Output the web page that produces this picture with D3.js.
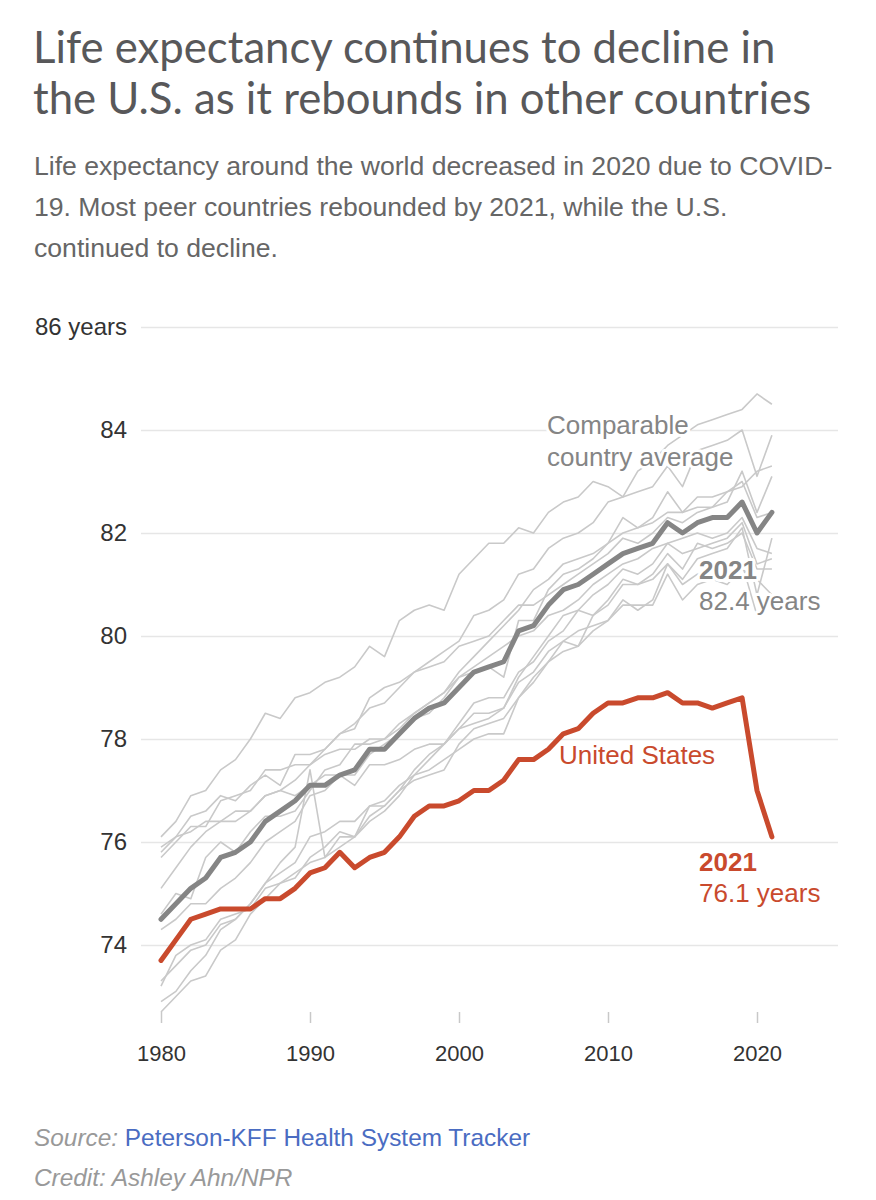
<!DOCTYPE html>
<html>
<head>
<meta charset="utf-8">
<script src="https://cdn.jsdelivr.net/npm/d3@7"></script>
<style>
  body { margin: 0; background: #fff; }
  svg { display: block; }
</style>
</head>
<body>
<svg id="chart" width="876" height="1200"></svg>
<script>
// years on the x axis
const years = [1980, 1981, 1982, 1983, 1984, 1985, 1986, 1987, 1988, 1989,
  1990, 1991, 1992, 1993, 1994, 1995, 1996, 1997, 1998, 1999,
  2000, 2001, 2002, 2003, 2004, 2005, 2006, 2007, 2008, 2009,
  2010, 2011, 2012, 2013, 2014, 2015, 2016, 2017, 2018, 2019,
  2020, 2021];

const unitedStates = [73.7, 74.1, 74.5, 74.6, 74.7, 74.7, 74.7, 74.9, 74.9, 75.1,
  75.4, 75.5, 75.8, 75.5, 75.7, 75.8, 76.1, 76.5, 76.7, 76.7,
  76.8, 77.0, 77.0, 77.2, 77.6, 77.6, 77.8, 78.1, 78.2, 78.5,
  78.7, 78.7, 78.8, 78.8, 78.9, 78.7, 78.7, 78.6, 78.7, 78.8,
  77.0, 76.1];

const peerAverage = [74.5, 74.8, 75.1, 75.3, 75.7, 75.8, 76.0, 76.4, 76.6, 76.8,
  77.1, 77.1, 77.3, 77.4, 77.8, 77.8, 78.1, 78.4, 78.6, 78.7,
  79.0, 79.3, 79.4, 79.5, 80.1, 80.2, 80.6, 80.9, 81.0, 81.2,
  81.4, 81.6, 81.7, 81.8, 82.2, 82.0, 82.2, 82.3, 82.3, 82.6,
  82.0, 82.4];

// individual comparable countries (light grey lines)
const japan = [76.1, 76.4, 76.9, 77.0, 77.4, 77.6, 78.0, 78.5, 78.4, 78.8,
  78.9, 79.1, 79.2, 79.4, 79.8, 79.6, 80.3, 80.5, 80.6, 80.5,
  81.2, 81.5, 81.8, 81.8, 82.1, 82.0, 82.4, 82.6, 82.7, 83.0,
  82.9, 82.7, 83.2, 83.4, 83.7, 83.9, 84.1, 84.2, 84.3, 84.4,
  84.7, 84.5];
const switzerland = [75.7, 76.0, 76.3, 76.3, 76.8, 76.9, 77.0, 77.4, 77.4, 77.5,
  77.5, 77.8, 78.1, 78.3, 78.6, 78.7, 79.0, 79.3, 79.5, 79.7,
  79.9, 80.4, 80.5, 80.7, 81.2, 81.3, 81.7, 81.9, 82.0, 82.2,
  82.6, 82.7, 82.8, 82.9, 83.3, 82.9, 83.6, 83.7, 83.8, 84.0,
  83.1, 83.9];
const australia = [74.6, 75.0, 74.9, 75.7, 76.0, 75.8, 76.2, 76.5, 76.5, 76.6,
  77.0, 77.4, 77.5, 77.9, 77.9, 78.0, 78.2, 78.5, 78.7, 78.9,
  79.3, 79.6, 79.9, 80.2, 80.5, 80.9, 81.1, 81.4, 81.5, 81.6,
  81.8, 82.0, 82.1, 82.2, 82.4, 82.4, 82.5, 82.5, 82.8, 82.9,
  83.2, 83.3];
const sweden = [75.8, 76.1, 76.5, 76.6, 76.9, 76.8, 77.1, 77.3, 77.1, 77.7,
  77.7, 77.8, 78.1, 78.2, 78.8, 79.0, 79.1, 79.3, 79.4, 79.5,
  79.8, 79.9, 80.0, 80.3, 80.6, 80.6, 80.8, 81.0, 81.2, 81.4,
  81.6, 81.9, 81.8, 82.0, 82.3, 82.2, 82.4, 82.5, 82.6, 83.2,
  82.4, 83.1];
const netherlands = [75.9, 76.1, 76.2, 76.4, 76.4, 76.6, 76.6, 76.9, 77.0, 76.9,
  77.1, 77.3, 77.3, 77.1, 77.5, 77.5, 77.6, 77.8, 77.9, 77.9,
  78.2, 78.3, 78.4, 78.6, 79.2, 79.6, 80.0, 80.4, 80.5, 80.8,
  81.0, 81.3, 81.2, 81.4, 81.8, 81.6, 81.7, 81.8, 81.9, 82.2,
  81.4, 81.5];
const canada = [75.1, 75.5, 75.9, 76.2, 76.4, 76.4, 76.6, 76.9, 77.0, 77.2,
  77.5, 77.7, 77.8, 77.8, 78.0, 78.0, 78.3, 78.5, 78.7, 78.9,
  79.2, 79.4, 79.6, 79.8, 80.0, 80.1, 80.4, 80.5, 80.7, 81.0,
  81.2, 81.4, 81.5, 81.7, 81.8, 81.9, 82.0, 81.9, 82.0, 82.3,
  81.7, 81.6];
const france = [74.3, 74.5, 74.8, 74.8, 75.1, 75.3, 75.6, 76.0, 76.2, 76.4,
  76.9, 77.0, 77.3, 77.3, 77.7, 77.9, 78.1, 78.4, 78.5, 78.8,
  79.2, 79.3, 79.4, 79.2, 80.3, 80.3, 80.9, 81.2, 81.3, 81.5,
  81.8, 82.3, 82.1, 82.3, 82.8, 82.4, 82.7, 82.7, 82.8, 83.0,
  82.3, 82.4];
const belgium = [73.3, 73.6, 73.9, 74.0, 74.4, 74.5, 74.8, 75.2, 75.4, 75.6,
  76.1, 76.2, 76.4, 76.4, 76.7, 76.8, 77.1, 77.3, 77.4, 77.6,
  77.8, 78.0, 78.1, 78.1, 78.8, 79.1, 79.5, 79.9, 79.8, 80.1,
  80.3, 80.7, 80.5, 80.7, 81.4, 81.1, 81.5, 81.6, 81.7, 82.1,
  80.8, 81.9];
const unitedKingdom = [73.2, 73.8, 74.0, 74.1, 74.5, 74.6, 74.7, 75.1, 75.2, 75.3,
  75.7, 75.9, 76.2, 76.1, 76.7, 76.7, 77.0, 77.2, 77.3, 77.4,
  77.9, 78.2, 78.3, 78.4, 78.8, 79.2, 79.5, 79.7, 79.8, 80.4,
  80.6, 81.0, 81.0, 81.1, 81.4, 81.0, 81.2, 81.3, 81.3, 81.4,
  80.4, 80.7];
const germany = [72.9, 73.1, 73.5, 73.8, 74.3, 74.5, 74.8, 75.2, 75.6, 75.9,
  77.4, 75.7, 76.1, 76.1, 76.4, 76.6, 76.9, 77.3, 77.6, 77.9,
  78.2, 78.5, 78.5, 78.6, 79.1, 79.3, 79.7, 79.9, 80.1, 80.2,
  80.3, 80.6, 80.6, 80.6, 81.2, 80.7, 81.0, 81.1, 81.0, 81.3,
  81.1, 80.8];
const austria = [72.7, 73.0, 73.3, 73.4, 73.9, 74.1, 74.6, 74.9, 75.2, 75.4,
  75.6, 75.7, 75.9, 76.1, 76.5, 76.7, 77.0, 77.4, 77.7, 77.9,
  78.3, 78.7, 78.8, 78.8, 79.3, 79.5, 79.9, 80.1, 80.5, 80.4,
  80.7, 81.1, 81.0, 81.2, 81.6, 81.3, 81.8, 81.7, 81.8, 82.0,
  81.3, 81.3];

const peerCountries = [japan, switzerland, australia, sweden, netherlands, canada,
  france, belgium, unitedKingdom, germany, austria];

const yTicks = [74, 76, 78, 80, 82, 84, 86];
const xTicks = [1980, 1990, 2000, 2010, 2020];

const svg = d3.select('#chart');
const sans = '"Liberation Sans", Arial, Helvetica, sans-serif';
const red = '#c94a2d';
const grey = '#858585';

// Title + subtitle
const title = svg.append('text')
  .attr('font-family', 'Lato, sans-serif')
  .attr('font-size', 43.7)
  .attr('fill', '#58585a');
title.append('tspan').attr('x', 33).attr('y', 63).text('Life expectancy continues to decline in');
title.append('tspan').attr('x', 33).attr('y', 114).text('the U.S. as it rebounds in other countries');

const sub = svg.append('text')
  .attr('font-family', sans)
  .attr('font-size', 26.6)
  .attr('fill', '#666');
['Life expectancy around the world decreased in 2020 due to COVID-',
 '19. Most peer countries rebounded by 2021, while the U.S.',
 'continued to decline.'].forEach((t, i) => {
  sub.append('tspan').attr('x', 34).attr('y', 175 + i * 41).text(t);
});

// Scales
const x = d3.scaleLinear().domain([1980, 2020]).range([161, 757]);
const y = d3.scaleLinear().domain([74, 86]).range([945, 327]);
const gridLeft = 141, gridRight = 838;

// Y axis with gridlines
const yAxis = svg.append('g')
  .attr('transform', `translate(${gridLeft},0)`)
  .call(d3.axisLeft(y)
    .tickValues(yTicks)
    .tickSize(-(gridRight - gridLeft))
    .tickPadding(14)
    .tickFormat(d => d === 86 ? '86 years' : d));
yAxis.select('.domain').remove();
yAxis.selectAll('line').attr('stroke', '#e6e6e6').attr('stroke-width', 1.5);
yAxis.selectAll('text')
  .attr('font-family', sans)
  .attr('font-size', 24)
  .attr('fill', '#333');

// X axis
const xAxis = svg.append('g')
  .attr('transform', 'translate(0,1012)')
  .call(d3.axisBottom(x)
    .tickValues(xTicks)
    .tickSize(11)
    .tickPadding(22)
    .tickFormat(d3.format('d')));
xAxis.select('.domain').remove();
xAxis.selectAll('line').attr('stroke', '#c8c8c8').attr('stroke-width', 1.5);
xAxis.selectAll('text')
  .attr('font-family', sans)
  .attr('font-size', 22)
  .attr('fill', '#333');

const line = d3.line()
  .x((d, i) => x(years[i]))
  .y(d => y(d));

// Peer country lines
svg.append('g')
  .selectAll('path')
  .data(peerCountries)
  .join('path')
  .attr('d', line)
  .attr('fill', 'none')
  .attr('stroke', '#c9c9c9')
  .attr('stroke-width', 1.6)
  .attr('stroke-linejoin', 'round');

// Average
svg.append('path')
  .datum(peerAverage)
  .attr('d', line)
  .attr('fill', 'none')
  .attr('stroke', grey)
  .attr('stroke-width', 5)
  .attr('stroke-linejoin', 'round')
  .attr('stroke-linecap', 'round');

// United States
svg.append('path')
  .datum(unitedStates)
  .attr('d', line)
  .attr('fill', 'none')
  .attr('stroke', red)
  .attr('stroke-width', 5)
  .attr('stroke-linejoin', 'round')
  .attr('stroke-linecap', 'round');

// Annotations
function label(xp, yp, txt, color, bold) {
  svg.append('text')
    .attr('x', xp).attr('y', yp)
    .attr('font-family', sans)
    .attr('font-size', 26)
    .attr('font-weight', bold ? 'bold' : 'normal')
    .attr('fill', color)
    .attr('stroke', '#fff')
    .attr('stroke-width', 6)
    .attr('stroke-linejoin', 'round')
    .attr('paint-order', 'stroke')
    .text(txt);
}
label(547, 434, 'Comparable', grey);
label(547, 466, 'country average', grey);
label(699, 579, '2021', grey, true);
label(699, 610, '82.4 years', grey);
label(559, 764, 'United States', red);
label(699, 871, '2021', red, true);
label(699, 902, '76.1 years', red);

// Footer
const src = svg.append('text')
  .attr('x', 34).attr('y', 1146)
  .attr('font-family', sans)
  .attr('font-size', 24.4);
src.append('tspan').attr('fill', '#999').attr('font-style', 'italic').text('Source: ');
src.append('tspan').attr('fill', '#4a6cc2').text('Peterson-KFF Health System Tracker');

svg.append('text')
  .attr('x', 34).attr('y', 1186)
  .attr('font-family', sans)
  .attr('font-size', 24.4)
  .attr('font-style', 'italic')
  .attr('fill', '#999')
  .text('Credit: Ashley Ahn/NPR');
</script>
</body>
</html>
